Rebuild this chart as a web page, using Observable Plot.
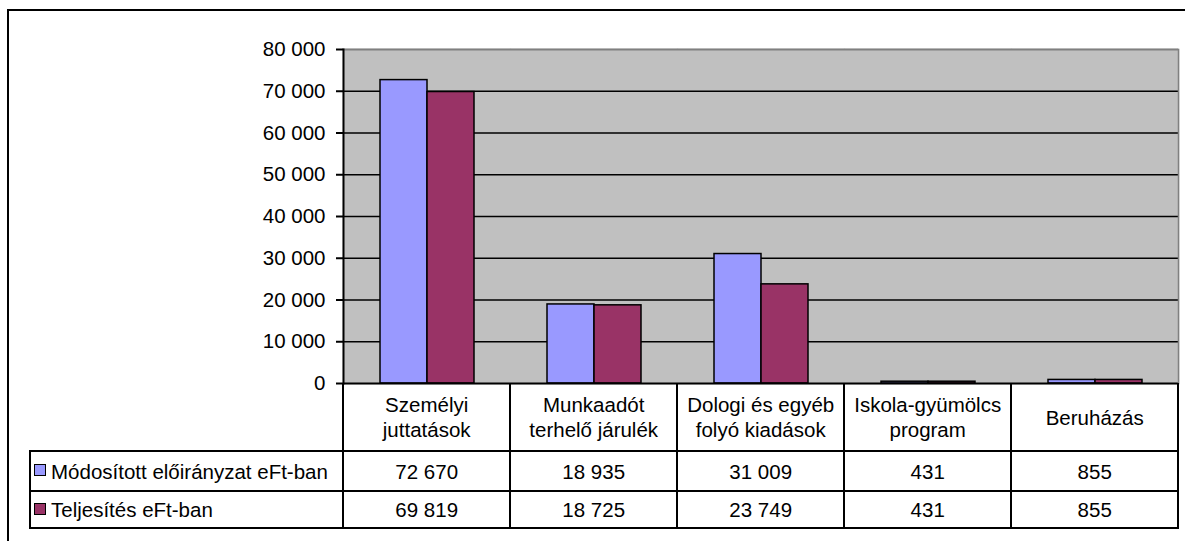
<!DOCTYPE html>
<html><head><meta charset="utf-8">
<script src="https://cdn.jsdelivr.net/npm/d3@7"></script>
<script src="https://cdn.jsdelivr.net/npm/@observablehq/plot@0.6"></script>
<style>
body{margin:0;background:#fff;font-family:"Liberation Sans",Arial,sans-serif;color:#000;}
#wrap{position:relative;width:1185px;height:541px;overflow:hidden;background:#fff;}
#border{position:absolute;left:7px;top:9px;width:1300px;height:700px;border:2px solid #000;box-sizing:border-box;}
#chart{position:absolute;left:0;top:0;}
#chart svg{overflow:visible;}
#table{position:absolute;left:0;top:0;}
.cell{position:absolute;box-sizing:border-box;display:flex;align-items:center;justify-content:center;text-align:center;font-size:20.5px;white-space:pre-line;line-height:25px;}
.hl{position:absolute;height:2px;background:#000;}
.vl{position:absolute;width:2px;background:#000;}
.key{display:inline-block;width:10px;height:10px;border:1.5px solid #000;margin:0 5px 0 4px;vertical-align:middle;position:relative;top:-1px;}
</style></head>
<body>
<div id="wrap"><div id="border"></div><div id="chart"></div><div id="table"></div></div>
<script>
const categories = ["Személyi\njuttatások", "Munkaadót\nterhelő járulék", "Dologi és egyéb\nfolyó kiadások", "Iskola-gyümölcs\nprogram", "Beruházás"];
const series = ["Módosított előirányzat eFt-ban", "Teljesítés eFt-ban"];
const modositott = [72670, 18935, 31009, 431, 855];
const teljesites = [69819, 18725, 23749, 431, 855];
const yTicks = [0, 10000, 20000, 30000, 40000, 50000, 60000, 70000, 80000];
const colors = ["#9999FF", "#993366"];

const values = [modositott, teljesites];
const data = categories.flatMap((c, i) => series.map((s, j) => ({category: c, series: s, value: values[j][i]})));

const loc = d3.formatLocale({decimal: ",", thousands: "\u00a0", grouping: [3], currency: ["", ""]});
const fmt = loc.format(",d");

const chart = Plot.plot({
  width: 1185, height: 400,
  marginLeft: 342, marginRight: 6, marginTop: 49, marginBottom: 17,
  style: {fontFamily: '"Liberation Sans", Arial, sans-serif', fontSize: "20.5px", color: "#000", background: "transparent", overflow: "visible"},
  fx: {domain: categories, padding: 0, axis: null, label: null},
  x: {domain: series, paddingInner: 0, paddingOuter: 0.76, axis: null, label: null},
  y: {domain: [0, 80000], axis: null, label: null},
  color: {domain: series, range: colors},
  marks: [
    Plot.frame({fill: "#C0C0C0", stroke: "#C0C0C0", strokeWidth: 1.5}),
    Plot.ruleY(yTicks.slice(1, -1), {stroke: "#000", strokeWidth: 1.3}),
    Plot.ruleY([80000], {stroke: "#808080", strokeWidth: 2}),
    Plot.barY(data, {fx: "category", x: "series", y: "value", fill: "series", stroke: "#000", strokeWidth: 1.5}),
    Plot.ruleY([0], {stroke: "#000", strokeWidth: 2}),
    Plot.frame({anchor: "right", facetAnchor: "right", stroke: "#808080", strokeWidth: 1.5}),
    Plot.frame({anchor: "left", facetAnchor: "left", stroke: "#000", strokeWidth: 2}),
    Plot.axisY({ticks: yTicks, tickFormat: fmt, label: null, tickSize: 7, tickPadding: 11, stroke: "#000", strokeWidth: 2, strokeOpacity: 1, fill: "#000", fontSize: 20.5})
  ]
});
document.getElementById("chart").appendChild(chart);

// data table under the chart, aligned to the fx scale
const fx = chart.scale("fx");
const y = chart.scale("y");
const step = (fx.range[1] - fx.range[0]) / categories.length;
const colX = categories.map((c, i) => fx.apply ? fx.apply(c) : fx.range[0] + i * step);
const top0 = y.apply ? y.apply(0) : 383;
const tableLeft = 30;
const rows = [top0, top0 + 68, top0 + 108, top0 + 145];
const right = colX[colX.length - 1] + step;
const T = document.getElementById("table");
function add(cls, style, html) {
  const d = document.createElement("div");
  d.className = cls;
  Object.assign(d.style, style);
  if (html != null) d.innerHTML = html;
  T.appendChild(d);
  return d;
}
categories.forEach((c, i) => {
  add("cell", {left: colX[i] + "px", top: rows[0] + "px", width: step + "px", height: (rows[1] - rows[0]) + "px"}).textContent = c;
});
series.forEach((s, j) => {
  const d = add("cell", {left: tableLeft + "px", top: rows[j + 1] + "px", width: (colX[0] - tableLeft) + "px", height: (rows[j + 2] - rows[j + 1]) + "px", justifyContent: "flex-start"});
  const k = document.createElement("span");
  k.className = "key"; k.style.background = colors[j];
  d.appendChild(k);
  d.appendChild(document.createTextNode(s));
  categories.forEach((c, i) => {
    add("cell", {left: colX[i] + "px", top: rows[j + 1] + "px", width: step + "px", height: (rows[j + 2] - rows[j + 1]) + "px"}).textContent = fmt(values[j][i]);
  });
});
[rows[1], rows[2], rows[3]].forEach(yy => add("hl", {left: tableLeft + "px", top: (yy - 1) + "px", width: (right - tableLeft + 1) + "px"}));
add("vl", {left: (tableLeft - 1) + "px", top: (rows[1] - 1) + "px", height: (rows[3] - rows[1] + 2) + "px"});
colX.concat([right]).forEach(xx => add("vl", {left: (xx - 1) + "px", top: rows[0] + "px", height: (rows[3] - rows[0] + 1) + "px"}));
</script>
</body></html>
